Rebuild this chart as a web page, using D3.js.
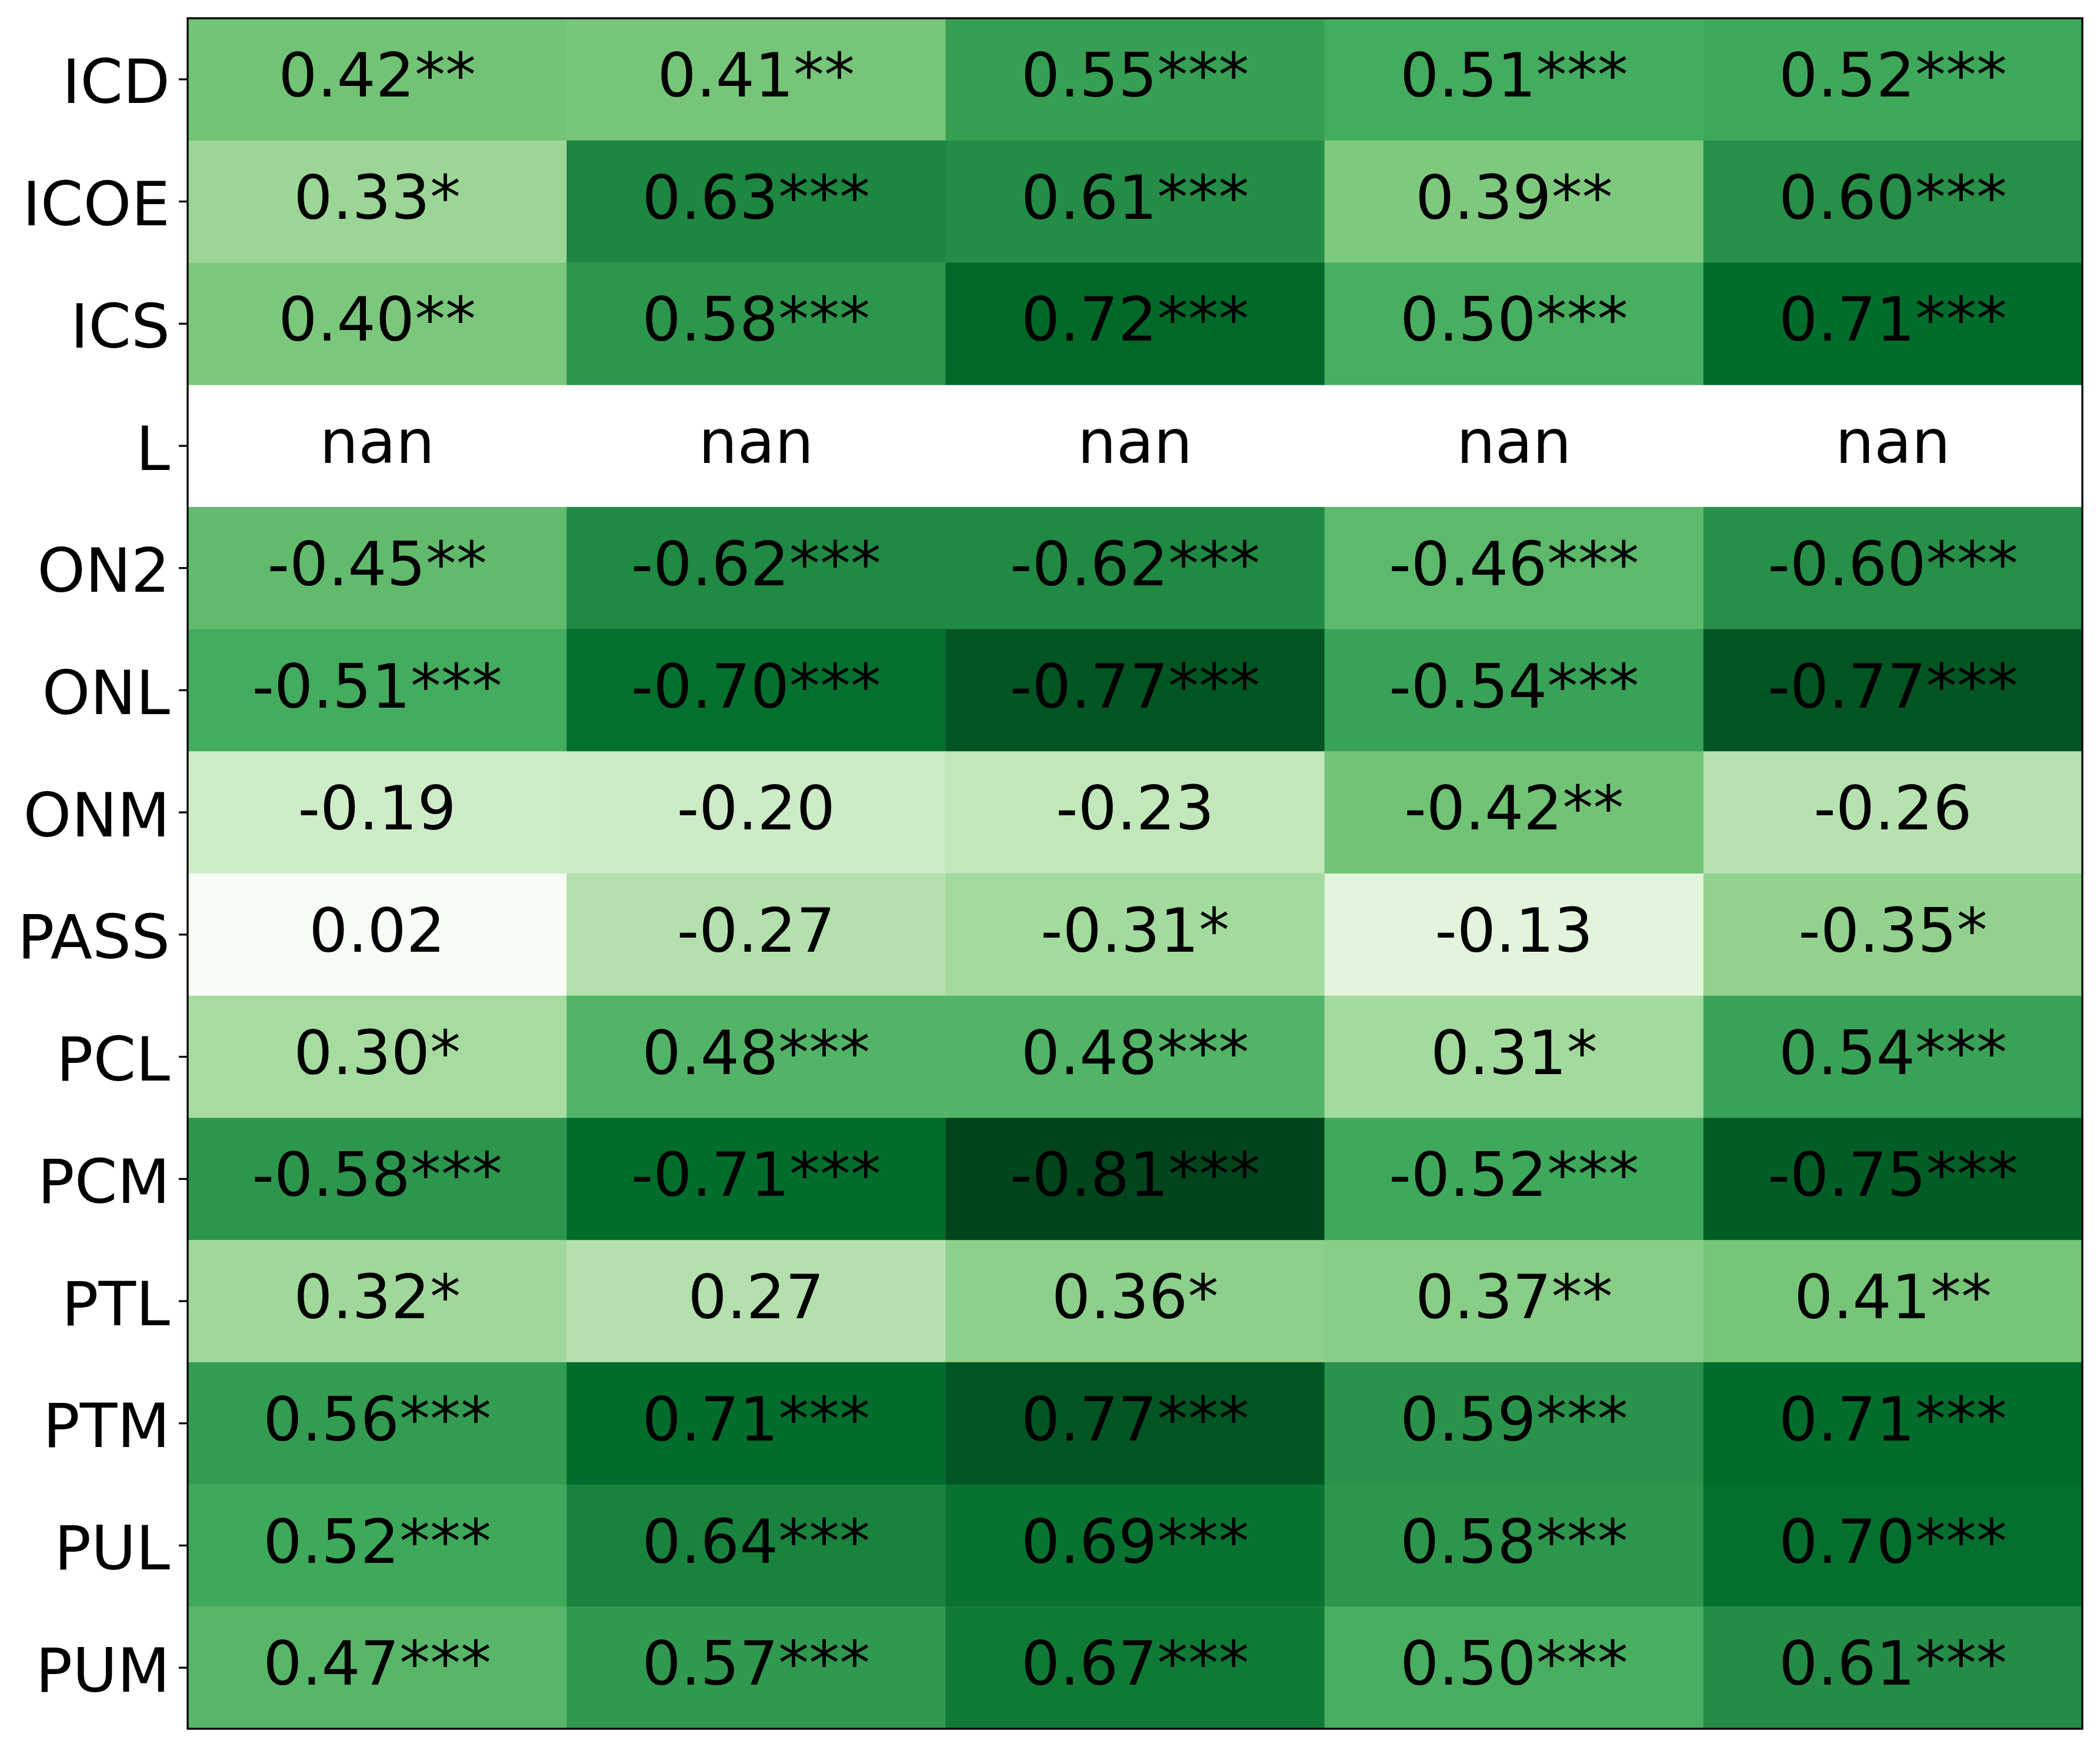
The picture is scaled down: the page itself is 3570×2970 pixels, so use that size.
<!DOCTYPE html>
<html>
<head>
<meta charset="utf-8">
<script src="https://cdn.jsdelivr.net/npm/d3@7"></script>
<style>
  html, body { margin: 0; padding: 0; background: #fff; }
  svg { display: block; }
</style>
</head>
<body>
<svg id="chart"></svg>
<script>
// Row labels (y axis), top to bottom
const rowLabels = ["ICD", "ICOE", "ICS", "L", "ON2", "ONL", "ONM", "PASS", "PCL", "PCM", "PTL", "PTM", "PUL", "PUM"];
// five unlabeled columns
const colKeys = [0, 1, 2, 3, 4];

// correlation values per row (null = nan)
const values = [
  [0.42, 0.41, 0.55, 0.51, 0.52],
  [0.33, 0.63, 0.61, 0.39, 0.60],
  [0.40, 0.58, 0.72, 0.50, 0.71],
  [null, null, null, null, null],
  [-0.45, -0.62, -0.62, -0.46, -0.60],
  [-0.51, -0.70, -0.77, -0.54, -0.77],
  [-0.19, -0.20, -0.23, -0.42, -0.26],
  [0.02, -0.27, -0.31, -0.13, -0.35],
  [0.30, 0.48, 0.48, 0.31, 0.54],
  [-0.58, -0.71, -0.81, -0.52, -0.75],
  [0.32, 0.27, 0.36, 0.37, 0.41],
  [0.56, 0.71, 0.77, 0.59, 0.71],
  [0.52, 0.64, 0.69, 0.58, 0.70],
  [0.47, 0.57, 0.67, 0.50, 0.61],
];

// significance markers per row
const stars = [
  ["**", "**", "***", "***", "***"],
  ["*", "***", "***", "**", "***"],
  ["**", "***", "***", "***", "***"],
  ["", "", "", "", ""],
  ["**", "***", "***", "***", "***"],
  ["***", "***", "***", "***", "***"],
  ["", "", "", "**", ""],
  ["", "", "*", "", "*"],
  ["*", "***", "***", "*", "***"],
  ["***", "***", "***", "***", "***"],
  ["*", "", "*", "**", "**"],
  ["***", "***", "***", "***", "***"],
  ["***", "***", "***", "***", "***"],
  ["***", "***", "***", "***", "***"],
];

// matplotlib "Greens" anchor colours
const greens = ["#f7fcf5", "#e5f5e0", "#c7e9c0", "#a1d99b", "#74c476", "#41ab5d", "#238b45", "#006d2c", "#00441b"];

const W = 3570, H = 2970;
const margin = { left: 319, right: 30, top: 31, bottom: 31 };
const fontSize = 104;
const font = "'DejaVu Sans', sans-serif";

const svg = d3.select("#chart")
  .attr("width", W)
  .attr("height", H)
  .style("font-family", font);

svg.append("rect").attr("width", W).attr("height", H).attr("fill", "#fff");

const x = d3.scaleBand()
  .domain(colKeys)
  .range([margin.left, W - margin.right])
  .padding(0);

const y = d3.scaleBand()
  .domain(rowLabels)
  .range([margin.top, H - margin.bottom])
  .padding(0);

const cells = [];
rowLabels.forEach((r, i) => {
  colKeys.forEach((c) => {
    cells.push({ row: r, col: c, v: values[i][c], s: stars[i][c] });
  });
});

const absVals = cells.filter((d) => d.v !== null).map((d) => Math.abs(d.v));
const [vmin, vmax] = d3.extent(absVals);
const color = d3.scaleLinear()
  .domain(greens.map((_, i) => vmin + (i / (greens.length - 1)) * (vmax - vmin)))
  .range(greens)
  .interpolate(d3.interpolateRgb)
  .clamp(true);

// --- Cells ---
svg.append("g")
  .selectAll("rect")
  .data(cells.filter((d) => d.v !== null))
  .join("rect")
  .attr("x", (d) => x(d.col))
  .attr("y", (d) => y(d.row))
  .attr("width", x.bandwidth() + 0.5)
  .attr("height", y.bandwidth() + 0.5)
  .attr("fill", (d) => color(Math.abs(d.v)));

// --- Annotations ---
svg.append("g")
  .selectAll("text")
  .data(cells)
  .join("text")
  .attr("x", (d) => x(d.col) + x.bandwidth() / 2)
  .attr("y", (d) => y(d.row) + y.bandwidth() / 2)
  .attr("dy", "0.28em")
  .attr("text-anchor", "middle")
  .attr("font-size", fontSize)
  .attr("fill", "#000")
  .text((d) => (d.v === null ? "nan" : d.v.toFixed(2) + d.s));

// --- Y axis ---
const yAxis = d3.axisLeft(y).tickSize(15).tickPadding(15);
const gy = svg.append("g")
  .attr("transform", `translate(${margin.left},0)`)
  .call(yAxis);
gy.select(".domain").remove();
gy.selectAll(".tick line").attr("stroke", "#000").attr("stroke-width", 3.3);
gy.selectAll(".tick text")
  .attr("font-size", fontSize)
  .attr("font-family", font)
  .attr("fill", "#000")
  .attr("dy", "0.39em");

// --- Frame ---
svg.append("rect")
  .attr("x", margin.left)
  .attr("y", margin.top)
  .attr("width", W - margin.left - margin.right)
  .attr("height", H - margin.top - margin.bottom)
  .attr("fill", "none")
  .attr("stroke", "#000")
  .attr("stroke-width", 3.3);
</script>
</body>
</html>
